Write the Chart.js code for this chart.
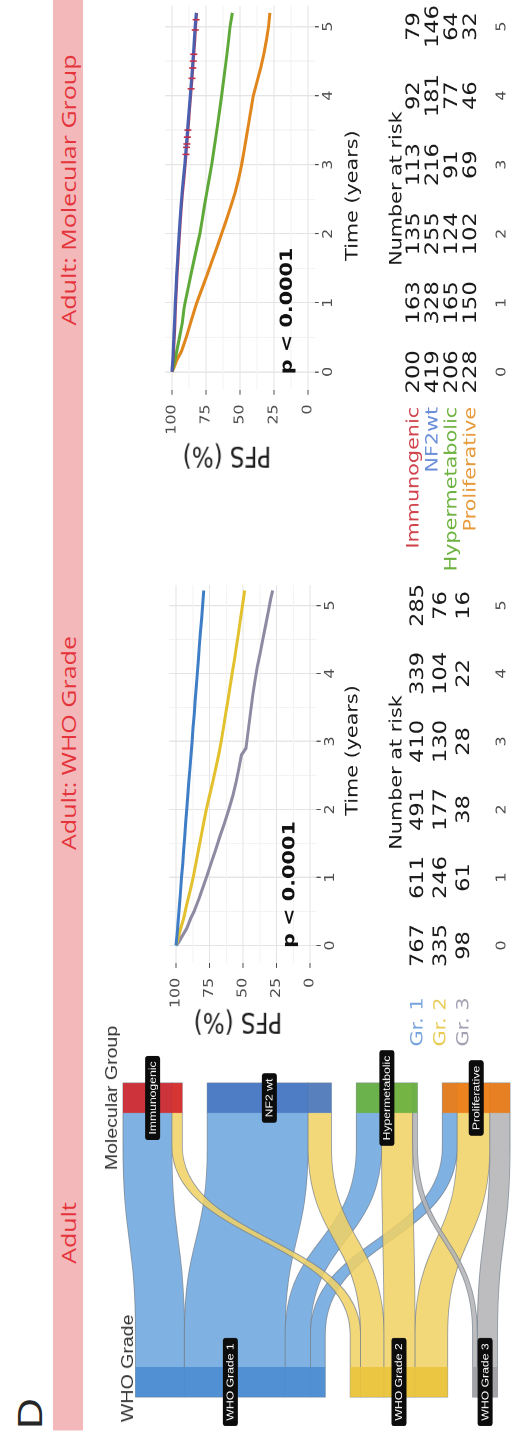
<!DOCTYPE html>
<html>
<head>
<meta charset="utf-8">
<script src="https://cdn.jsdelivr.net/npm/chart.js@4.4.1/dist/chart.umd.min.js"></script>
<style>
  html, body { margin: 0; padding: 0; background: #fff; width: 525px; height: 1439px; overflow: hidden; }
  #fig { position: absolute; left: 0; top: 0; height: 525px; transform-origin: 0 0; background: #fff; }
  #fig .lbl { position: absolute; white-space: nowrap; line-height: 1; }
  #fig canvas { position: absolute; }
</style>
</head>
<body>
<div id="fig"></div>
<script>
// ---------------- data ----------------
const gradeNames = ['WHO Grade 1', 'WHO Grade 2', 'WHO Grade 3'];
const groupNames = ['Immunogenic', 'NF2 wt', 'Hypermetabolic', 'Proliferative'];
// patients flowing from each WHO grade into each molecular group
const grade1ToGroup = [165, 340, 85, 50];
const grade2ToGroup = [35, 79, 105, 110];
const grade3ToGroup = [0, 0, 16, 68];

const timeTicks = [0, 1, 2, 3, 4, 5];
const timeMinorTicks = [0.5, 1.5, 2.5, 3.5, 4.5];
const pfsTicks = [0, 25, 50, 75, 100];
const pfsMinorTicks = [12.5, 37.5, 62.5, 87.5];

// Adult: WHO grade
const whoRowLabels = ['Gr. 1', 'Gr. 2', 'Gr. 3'];
const gr1Time = [0, 0.1, 0.25, 0.4, 0.6, 0.8, 1.0, 1.2, 1.4, 1.6, 1.8, 2.0, 2.2, 2.4, 2.6, 2.8, 3.0, 3.2, 3.4, 3.6, 3.8, 4.0, 4.2, 4.4, 4.6, 4.8, 5.0, 5.22];
const gr1Pfs  = [100, 99.5, 98.8, 98.2, 97.4, 96.6, 95.9, 95.0, 94.3, 93.5, 92.8, 92.0, 91.2, 90.5, 89.6, 88.8, 88.0, 87.3, 86.4, 85.7, 84.9, 84.1, 83.3, 82.6, 81.8, 80.9, 80.1, 79.3];
const gr2Time = [0, 0.1, 0.25, 0.4, 0.6, 0.8, 1.0, 1.2, 1.4, 1.6, 1.8, 2.0, 2.2, 2.4, 2.6, 2.8, 3.0, 3.2, 3.4, 3.6, 3.8, 4.0, 4.2, 4.4, 4.6, 4.8, 5.0, 5.22];
const gr2Pfs  = [100, 98.5, 96.5, 94.3, 92.0, 89.5, 87.2, 85.2, 83.3, 81.3, 79.4, 77.4, 75.0, 72.6, 70.4, 68.2, 66.3, 64.6, 63.0, 61.3, 59.7, 58.1, 56.4, 54.9, 53.3, 51.9, 50.4, 48.8];
const gr3Time = [0, 0.05, 0.15, 0.25, 0.4, 0.5, 0.7, 0.9, 1.0, 1.2, 1.4, 1.6, 1.8, 2.0, 2.2, 2.4, 2.6, 2.8, 2.9, 3.1, 3.3, 3.5, 3.7, 3.9, 4.1, 4.3, 4.5, 4.7, 4.9, 5.1, 5.22];
const gr3Pfs  = [100, 98, 95, 92, 89, 86.5, 82.6, 79.1, 77.3, 74, 70.5, 67.3, 63.8, 60.6, 57.6, 55.2, 53.1, 51.2, 47.8, 46.5, 45.2, 43.9, 42.6, 41.0, 39.3, 37.2, 35.2, 33.2, 31.2, 29.3, 27.8];
const riskGr1 = [767, 611, 491, 410, 339, 285];
const riskGr2 = [335, 246, 177, 130, 104, 76];
const riskGr3 = [98, 61, 38, 28, 22, 16];

// Adult: molecular group
const molRowLabels = ['Immunogenic', 'NF2wt', 'Hypermetabolic', 'Proliferative'];
const immunoTime = [0, 0.2, 0.4, 0.6, 0.8, 1.0, 1.2, 1.4, 1.6, 1.8, 2.0, 2.2, 2.4, 2.6, 2.8, 3.0, 3.2, 3.4, 3.6, 3.8, 4.0, 4.2, 4.4, 4.6, 4.8, 5.0, 5.2];
const immunoPfs  = [100, 99.2, 98.6, 98.1, 97.7, 97.3, 96.8, 96.3, 95.7, 95.1, 94.5, 93.8, 93.1, 92.3, 91.3, 90.3, 89.5, 88.7, 87.9, 87.1, 86.3, 85.5, 84.7, 84.0, 83.3, 82.7, 81.9];
const immunoCensorTime = [3.15, 3.25, 3.3, 3.4, 3.5, 4.1, 4.25, 4.4, 4.5, 4.6, 4.95, 5.1];
const immunoCensorPfs  = [89.7, 89.3, 89.1, 88.7, 88.3, 85.9, 85.3, 84.7, 84.4, 84.0, 82.9, 82.3];
const nf2Time = [0, 0.2, 0.4, 0.6, 0.8, 1.0, 1.2, 1.4, 1.6, 1.8, 2.0, 2.2, 2.4, 2.6, 2.8, 3.0, 3.2, 3.4, 3.6, 3.8, 4.0, 4.2, 4.4, 4.6, 4.8, 5.0, 5.2];
const nf2Pfs  = [100, 99.4, 98.9, 98.4, 98.0, 97.6, 97.1, 96.6, 96.0, 95.4, 94.8, 94.1, 93.4, 92.6, 91.6, 90.6, 89.8, 89.0, 88.2, 87.4, 86.6, 85.8, 85.0, 84.3, 83.6, 83.0, 82.2];
const hyperTime = [0, 0.1, 0.2, 0.3, 0.5, 0.7, 0.9, 1.0, 1.2, 1.4, 1.6, 1.8, 2.0, 2.2, 2.4, 2.6, 2.8, 3.0, 3.2, 3.4, 3.6, 3.8, 4.0, 4.2, 4.4, 4.6, 4.8, 5.0, 5.2];
const hyperPfs  = [100, 98.8, 97.6, 96.5, 94.5, 92.5, 91.3, 90.4, 88.3, 86.2, 84.0, 81.8, 79.5, 77.8, 76.2, 74.4, 72.6, 70.8, 69.3, 67.8, 66.3, 64.9, 63.5, 62.2, 60.9, 59.6, 58.4, 57.3, 55.6];
const prolifTime = [0, 0.08, 0.17, 0.3, 0.5, 0.7, 0.9, 1.0, 1.2, 1.4, 1.6, 1.8, 2.0, 2.2, 2.4, 2.6, 2.8, 3.0, 3.2, 3.4, 3.6, 3.8, 4.0, 4.2, 4.4, 4.6, 4.8, 5.0, 5.2];
const prolifPfs  = [100, 98.2, 96.5, 93.0, 89.5, 86.5, 83.4, 81.8, 78.0, 74.3, 70.7, 67.0, 63.5, 60.0, 56.7, 53.5, 51.0, 48.8, 47.0, 45.3, 43.6, 41.9, 40.2, 37.5, 34.8, 32.5, 30.6, 29.0, 28.0];
const riskImmuno = [200, 163, 135, 113, 92, 79];
const riskNf2    = [419, 328, 255, 216, 181, 146];
const riskHyper  = [206, 165, 124, 91, 77, 64];
const riskProlif = [228, 150, 102, 69, 46, 32];

// ---------------- layout ----------------
// The figure is laid out landscape (1439 x 525), stretched horizontally by S
// and turned a quarter turn counter-clockwise onto the portrait page.
const S = 1.22;
const FIG_W = 1439;
const fig = document.getElementById('fig');
fig.style.width = (FIG_W / S) + 'px';
fig.style.transform = `translate(0px, ${FIG_W}px) rotate(-90deg) scale(${S}, 1)`;

const FONT = "'DejaVu Sans', Verdana, sans-serif";
const HEAD_FONT = "'Open Sans', 'DejaVu Sans', sans-serif";
const SANS = "'Liberation Sans', Arial, sans-serif";

function addText(str, ux, uy, o) {
  const d = document.createElement('div');
  d.className = 'lbl';
  d.textContent = str;
  d.style.left = (ux / S) + 'px';
  d.style.top = uy + 'px';
  d.style.font = o.font;
  d.style.color = o.color || '#222';
  const ax = o.align === 'left' ? '0' : (o.align === 'right' ? '-100%' : '-50%');
  d.style.transform = `translate(${ax}, -50%)` + (o.rotate ? ` rotate(${o.rotate}deg)` : '');
  fig.appendChild(d);
  return d;
}

function addCanvas(ux, uy, w, h) {
  const c = document.createElement('canvas');
  const wPre = Math.round(w / S);
  c.width = wPre; c.height = h;
  c.style.left = (ux / S) + 'px';
  c.style.top = uy + 'px';
  c.style.width = wPre + 'px';
  c.style.height = h + 'px';
  fig.appendChild(c);
  return { canvas: c, wPre };
}

// header band
const band = document.createElement('div');
band.style.cssText = `position:absolute;left:${9 / S}px;top:53px;width:${(FIG_W - 9) / S}px;height:30px;background:#f3b9ba;`;
fig.appendChild(band);
addText('D', 10, 30, { font: `35px ${SANS}`, color: '#262626', align: 'left' });
addText('Adult', 206, 68, { font: `20.5px ${HEAD_FONT}`, color: '#e5333b' });
addText('Adult: WHO Grade', 696, 68, { font: `20.5px ${HEAD_FONT}`, color: '#e5333b' });
addText('Adult: Molecular Group', 1249, 68, { font: `20.5px ${HEAD_FONT}`, color: '#e5333b' });

// ---------------- alluvial (WHO grade -> molecular group) ----------------
const NODE_W = 0.0955;      // stratum width in x units
const STRATUM_GAP = 84;     // gap between strata, in patients
const STRAIGHT = 0.13;      // straight run of each flow next to a stratum
const flowRows = [grade1ToGroup, grade2ToGroup, grade3ToGroup];
const flowTotal = flowRows.reduce((a, r) => a + r.reduce((s, v) => s + v, 0), 0);
const molSpan = flowTotal + STRATUM_GAP * (groupNames.length - 1);

const gradeFlowFill = ['rgba(106,165,222,0.86)', 'rgba(241,210,100,0.86)', 'rgba(180,180,182,0.88)'];
const gradeStratumFill = ['#4d8dd0', '#e9c43d', '#a3a3a6'];
const groupStratumFill = ['#d4282c', '#4a78c2', '#69b13f', '#ec7c16'];

function roundRect(ctx, x, y, w, h, r) {
  ctx.beginPath();
  ctx.moveTo(x + r, y);
  ctx.arcTo(x + w, y, x + w, y + h, r);
  ctx.arcTo(x + w, y + h, x, y + h, r);
  ctx.arcTo(x, y + h, x, y, r);
  ctx.arcTo(x, y, x + w, y, r);
  ctx.closePath();
}

const alluvialPlugin = {
  id: 'alluvial',
  afterDatasetsDraw(chart) {
    const { ctx, scales: { x, y } } = chart;
    const gradeTot = flowRows.map(r => r.reduce((a, b) => a + b, 0));
    const groupTot = groupNames.map((_, j) => flowRows.reduce((a, r) => a + r[j], 0));
    const whoSpan = flowTotal + STRATUM_GAP * (gradeNames.length - 1);
    const whoTop = []; let acc = (molSpan - whoSpan) / 2;
    gradeTot.forEach(v => { whoTop.push(acc); acc += v + STRATUM_GAP; });
    const molTop = []; acc = 0;
    groupTot.forEach(v => { molTop.push(acc); acc += v + STRATUM_GAP; });

    const xL = x.getPixelForValue(0), xa = x.getPixelForValue(NODE_W);
    const xb = x.getPixelForValue(1 - NODE_W), xR = x.getPixelForValue(1);
    const run = (xb - xa) * STRAIGHT;
    const xa2 = xa + run, xb2 = xb - run, xm = (xa2 + xb2) / 2;
    const whoCur = whoTop.slice(), molCur = molTop.slice();

    ctx.save();
    flowRows.forEach((row, i) => {
      row.forEach((v, j) => {
        if (!v) return;
        const a0 = y.getPixelForValue(whoCur[i]), a1 = y.getPixelForValue(whoCur[i] + v);
        const b0 = y.getPixelForValue(molCur[j]), b1 = y.getPixelForValue(molCur[j] + v);
        whoCur[i] += v; molCur[j] += v;
        ctx.beginPath();
        ctx.moveTo(xL, a0); ctx.lineTo(xa2, a0);
        ctx.bezierCurveTo(xm, a0, xm, b0, xb2, b0);
        ctx.lineTo(xR, b0); ctx.lineTo(xR, b1); ctx.lineTo(xb2, b1);
        ctx.bezierCurveTo(xm, b1, xm, a1, xa2, a1);
        ctx.lineTo(xL, a1); ctx.closePath();
        ctx.fillStyle = gradeFlowFill[i];
        ctx.fill();
        ctx.lineWidth = 0.9;
        ctx.strokeStyle = 'rgba(118,128,140,0.75)';
        ctx.stroke();
      });
    });

    // strata
    ctx.globalAlpha = 0.92;
    gradeTot.forEach((v, i) => {
      const t = y.getPixelForValue(whoTop[i]), b = y.getPixelForValue(whoTop[i] + v);
      ctx.fillStyle = gradeStratumFill[i];
      ctx.fillRect(xL, t, xa - xL, b - t);
    });
    groupTot.forEach((v, j) => {
      const t = y.getPixelForValue(molTop[j]), b = y.getPixelForValue(molTop[j] + v);
      ctx.fillStyle = groupStratumFill[j];
      ctx.fillRect(xb, t, xR - xb, b - t);
    });
    ctx.globalAlpha = 1;

    // stratum labels
    ctx.font = `10px ${SANS}`;
    ctx.textAlign = 'center';
    ctx.textBaseline = 'middle';
    const tag = (txt, cx, cy) => {
      const w = ctx.measureText(txt).width + 9, h = 15;
      roundRect(ctx, cx - w / 2, cy - h / 2, w, h, 2.5);
      ctx.fillStyle = '#0c0c0c';
      ctx.fill();
      ctx.fillStyle = '#ffffff';
      ctx.fillText(txt, cx, cy + 0.5);
    };
    gradeTot.forEach((v, i) => tag(gradeNames[i], (xL + xa) / 2, y.getPixelForValue(whoTop[i] + v / 2)));
    groupTot.forEach((v, j) => tag(groupNames[j], (xb + xR) / 2, y.getPixelForValue(molTop[j] + v / 2)));
    ctx.restore();
  }
};

(function buildAlluvial() {
  const cUx = 0, cUy = 90, cW = 420, cH = 435;
  const { canvas, wPre } = addCanvas(cUx, cUy, cW, cH);
  const leftUx = 42, rightUx = 356, topUy = 123, bottomUy = 510;
  new Chart(canvas, {
    type: 'scatter',
    data: { datasets: [] },
    options: {
      responsive: false, animation: false, devicePixelRatio: 2,
      layout: { padding: { left: (leftUx - cUx) / S, right: wPre - (rightUx - cUx) / S, top: topUy - cUy, bottom: cUy + cH - bottomUy } },
      scales: {
        x: { type: 'linear', min: 0, max: 1, display: false },
        y: { type: 'linear', min: 0, max: molSpan, reverse: true, display: false }
      },
      plugins: { legend: { display: false }, tooltip: { enabled: false } }
    },
    plugins: [alluvialPlugin]
  });
  addText('WHO Grade', 17, 128, { font: `16px ${SANS}`, color: '#333', align: 'left' });
  addText('Molecular Group', 341, 112, { font: `16px ${SANS}`, color: '#333' });
})();

// ---------------- Kaplan-Meier panels ----------------
const X_MIN = -0.26, X_MAX = 5.3;

const kmTablePlugin = {
  id: 'kmTable',
  afterDraw(chart, args, o) {
    const { ctx, scales: { x, y } } = chart;
    ctx.save();
    ctx.font = `bold 17px ${FONT}`;
    ctx.fillStyle = '#111';
    ctx.textAlign = 'left';
    ctx.textBaseline = 'middle';
    ctx.fillText('p < 0.0001', x.getPixelForValue(0) - 2, y.getPixelForValue(15));
    ctx.textAlign = 'center';
    ctx.font = `17px ${FONT}`;
    ctx.fillStyle = '#1a1a1a';
    ctx.fillText('Time (years)', o.timeTitleX, o.timeTitleY);
    ctx.fillText('Number at risk', o.riskTitleX, o.riskTitleY);
    o.rows.forEach((r, k) => {
      const ry = o.rowY[k];
      ctx.textAlign = 'center';
      ctx.fillStyle = '#1a1a1a';
      ctx.font = `18.5px ${FONT}`;
      r.values.forEach((v, m) => ctx.fillText(String(v), x.getPixelForValue(timeTicks[m]), ry));
      ctx.textAlign = 'right';
      ctx.fillStyle = r.color;
      ctx.font = `17px ${FONT}`;
      ctx.fillText(r.label, x.getPixelForValue(0) - o.labelGap, ry);
    });
    ctx.font = `13px ${FONT}`;
    ctx.fillStyle = '#4d4d4d';
    ctx.textAlign = 'center';
    timeTicks.forEach(t => ctx.fillText(String(t), x.getPixelForValue(t), o.bottomTickY));
    ctx.restore();
  }
};

function pts(ts, vs) { return ts.map((t, i) => ({ x: t, y: vs[i] })); }

function buildKm(p) {
  const { canvas, wPre } = addCanvas(p.canvasUx, p.canvasUy, p.canvasW, p.canvasH);
  const pxPct = (p.uy0 - p.uy100) / 100;
  const areaLeft = p.t0Ux + X_MIN * p.pxYear;
  const areaRight = p.t0Ux + X_MAX * p.pxYear;
  const areaTop = p.uy100 - 5 * pxPct;
  const areaBottom = p.uy0 + 5 * pxPct;
  const yAxisW = (areaLeft - p.canvasUx) / S;
  const padRight = wPre - (areaRight - p.canvasUx) / S;
  const xAxisH = p.canvasUy + p.canvasH - areaBottom;
  const toY = uy => uy - p.canvasUy;
  const toX = ux => (ux - p.canvasUx) / S;

  // Chart.js paints dataset 0 last, so the list runs from the top layer down
  const datasets = [];
  (p.censors || []).forEach(c => datasets.push({
    data: pts(c.t, c.v), showLine: false, pointStyle: 'line', rotation: 90,
    pointRadius: 3.5, borderWidth: 1.3, borderColor: c.color, backgroundColor: c.color
  }));
  p.curves.forEach(c => datasets.push({
    data: pts(c.t, c.v), showLine: true,
    borderColor: c.color, borderWidth: 3, pointRadius: 0, fill: false
  }));

  new Chart(canvas, {
    type: 'scatter',
    data: { datasets },
    options: {
      responsive: false, animation: false, devicePixelRatio: 2,
      layout: { padding: { left: 0, right: padRight, top: areaTop - p.canvasUy, bottom: 0 } },
      scales: {
        x: {
          type: 'linear', min: X_MIN, max: X_MAX,
          afterBuildTicks: s => { s.ticks = timeTicks.concat(timeMinorTicks).sort((a, b) => a - b).map(v => ({ value: v })); },
          afterFit: s => { s.height = xAxisH; },
          border: { display: false },
          grid: {
            color: c => (c.tick && timeTicks.includes(c.tick.value)) ? '#e4e4e4' : '#f3f3f3',
            tickColor: c => (c.tick && timeTicks.includes(c.tick.value)) ? '#4d4d4d' : 'rgba(0,0,0,0)',
            tickLength: 4, lineWidth: 1
          },
          ticks: {
            autoSkip: false, maxRotation: 0, padding: 2, color: '#4d4d4d',
            font: { family: FONT, size: 13 },
            callback: v => timeTicks.includes(v) ? String(v) : ''
          }
        },
        y: {
          type: 'linear', min: -5, max: 105,
          afterBuildTicks: s => { s.ticks = pfsTicks.concat(pfsMinorTicks).sort((a, b) => a - b).map(v => ({ value: v })); },
          afterFit: s => { s.width = yAxisW; },
          border: { display: false },
          grid: {
            color: c => (c.tick && pfsTicks.includes(c.tick.value)) ? '#e4e4e4' : '#f3f3f3',
            tickColor: c => (c.tick && pfsTicks.includes(c.tick.value)) ? '#4d4d4d' : 'rgba(0,0,0,0)',
            tickLength: 4, lineWidth: 1
          },
          ticks: {
            autoSkip: false, padding: 8, color: '#4d4d4d',
            font: { family: FONT, size: 13 },
            callback: v => pfsTicks.includes(v) ? String(v) : ''
          }
        }
      },
      plugins: {
        legend: { display: false }, tooltip: { enabled: false },
        kmTable: {
          timeTitleX: toX(p.timeTitleUx), timeTitleY: toY(p.timeTitleUy),
          riskTitleX: toX(p.riskTitleUx), riskTitleY: toY(p.riskTitleUy),
          rowY: p.rowUy.map(toY), bottomTickY: toY(p.bottomTickUy),
          labelGap: p.labelGap / S, rows: p.rows
        }
      }
    },
    plugins: [kmTablePlugin]
  });
  addText('PFS (%)', p.pfsTitleUx, p.pfsTitleUy, { font: `23px ${FONT}`, color: '#1a1a1a', rotate: -90 });
}

buildKm({
  canvasUx: 375, canvasUy: 140, canvasW: 505, canvasH: 385,
  t0Ux: 494, pxYear: 68, uy100: 176, uy0: 310,
  timeTitleUx: 689, timeTitleUy: 353, riskTitleUx: 667, riskTitleUy: 397,
  rowUy: [418, 441, 464], bottomTickUy: 502,
  labelGap: 52, pfsTitleUx: 416, pfsTitleUy: 238,
  curves: [
    { t: gr1Time, v: gr1Pfs, color: '#3f7ec6' },
    { t: gr2Time, v: gr2Pfs, color: '#e3c12e' },
    { t: gr3Time, v: gr3Pfs, color: '#8e8aa2' }
  ],
  rows: [
    { label: whoRowLabels[0], values: riskGr1, color: '#79a6dc' },
    { label: whoRowLabels[1], values: riskGr2, color: '#e8cc55' },
    { label: whoRowLabels[2], values: riskGr3, color: '#a3a2b3' }
  ]
});

buildKm({
  canvasUx: 850, canvasUy: 140, canvasW: 589, canvasH: 385,
  t0Ux: 1067, pxYear: 69.8, uy100: 172, uy0: 308,
  timeTitleUx: 1243, timeTitleUy: 353, riskTitleUx: 1250, riskTitleUy: 397,
  rowUy: [414, 433, 452, 471], bottomTickUy: 502,
  labelGap: 35, pfsTitleUx: 982, pfsTitleUy: 227,
  curves: [
    { t: nf2Time, v: nf2Pfs, color: '#4b5fb0' },
    { t: immunoTime, v: immunoPfs, color: '#b8344e' },
    { t: hyperTime, v: hyperPfs, color: '#5fa93a' },
    { t: prolifTime, v: prolifPfs, color: '#e0861c' }
  ],
  censors: [
    { t: immunoCensorTime, v: immunoCensorPfs, color: '#c0304c' }
  ],
  rows: [
    { label: molRowLabels[0], values: riskImmuno, color: '#d0434c' },
    { label: molRowLabels[1], values: riskNf2, color: '#6b8ed8' },
    { label: molRowLabels[2], values: riskHyper, color: '#6db23f' },
    { label: molRowLabels[3], values: riskProlif, color: '#e8993a' }
  ]
});
</script>
</body>
</html>
